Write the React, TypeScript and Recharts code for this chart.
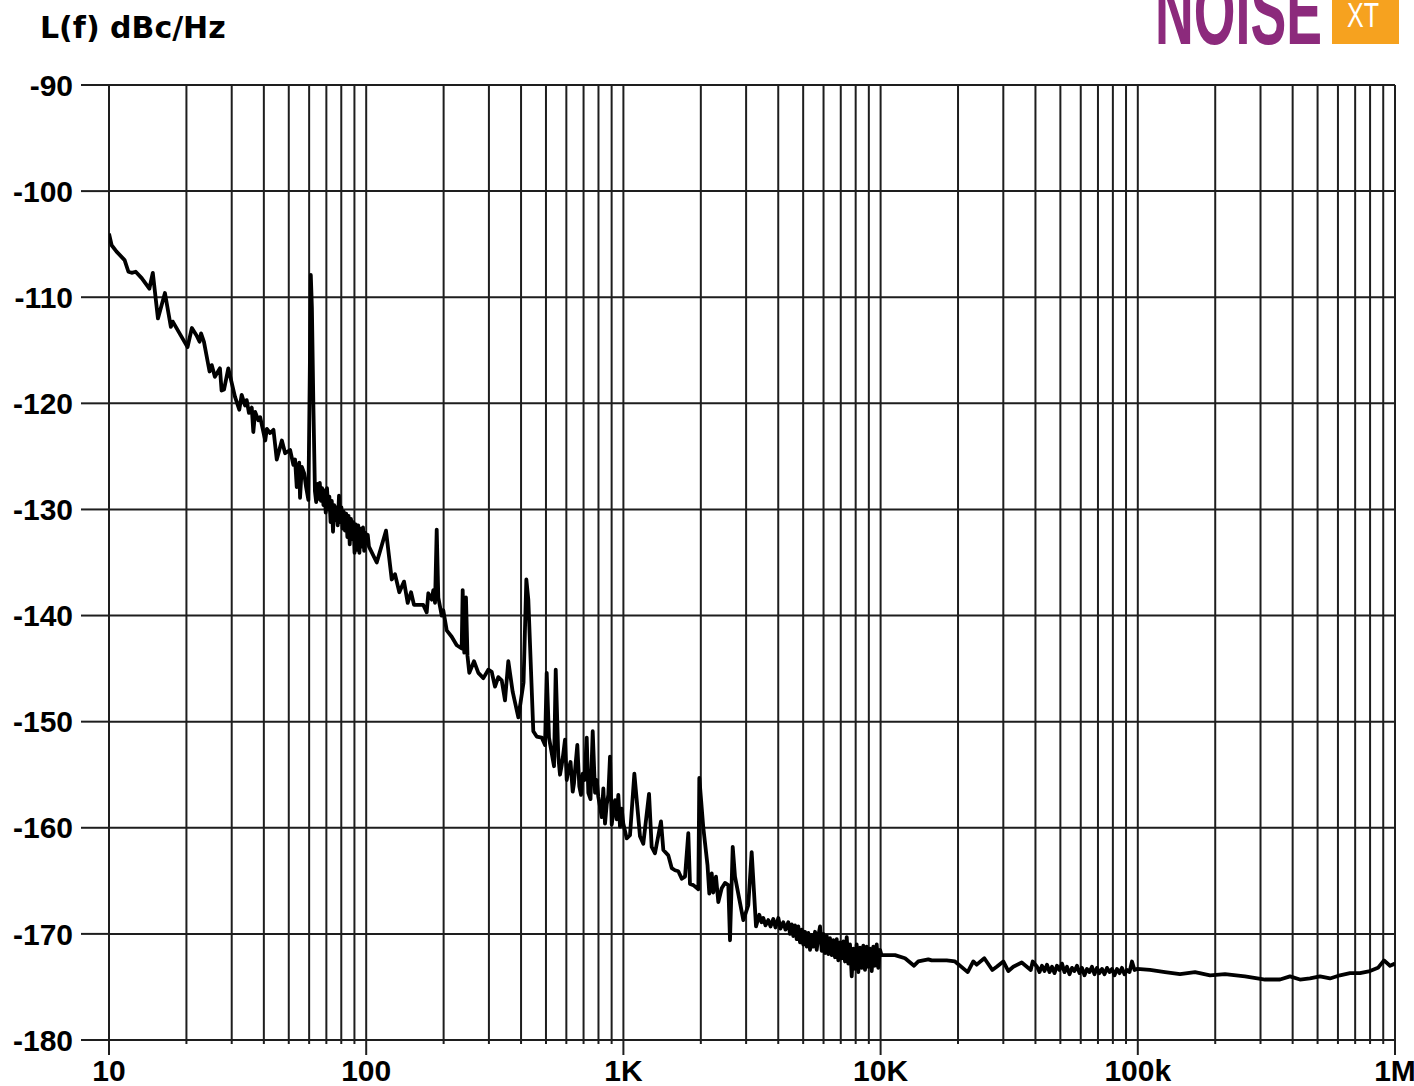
import React from 'react'
import { LineChart, Line, XAxis, YAxis, CartesianGrid } from 'recharts'

// [offset frequency Hz, L(f) dBc/Hz], one array per decade
const DECADE_10: [number, number][] = [
  [10.0, -104.0], [10.24, -105.1], [10.7, -105.7], [11.5, -106.5], [11.9, -107.6], [12.25, -107.7],
  [12.7, -107.6], [13.4, -108.2], [14.35, -109.2], [14.8, -107.7], [15.5, -112.0], [16.5, -109.6],
  [17.4, -112.8], [17.7, -112.3], [20.2, -114.7], [21.0, -112.9], [21.9, -113.6], [22.5, -114.2],
  [22.8, -113.4], [23.4, -114.2], [24.6, -117.0], [25.1, -116.4], [25.8, -117.5], [27.0, -116.7],
  [27.4, -118.8], [28.0, -118.7], [29.1, -116.7], [30.9, -119.4], [32.1, -120.6], [32.8, -119.2],
  [33.8, -120.2], [34.3, -119.7], [35.0, -120.9], [35.9, -120.4], [36.4, -122.7], [37.0, -120.8],
  [38.1, -121.6], [38.7, -121.3], [40.5, -123.5], [41.1, -122.4], [42.3, -122.8], [43.6, -122.5],
  [44.9, -125.3], [47.0, -123.5], [48.4, -124.7], [50.6, -124.4], [52.1, -125.8], [52.9, -125.3],
  [53.7, -127.9], [54.9, -125.6], [55.3, -128.9], [56.2, -126.0], [57.4, -126.6], [58.4, -127.9],
  [59.6, -129.1], [60.3, -118.0], [60.9, -107.9], [61.5, -111.0], [62.3, -120.0], [63.2, -128.3],
  [63.9, -129.3], [64.6, -127.6], [65.3, -129.0], [66.0, -127.5], [66.7, -129.2], [67.4, -128.0],
  [68.2, -129.6], [68.9, -128.2], [69.6, -130.3], [70.4, -128.0], [71.2, -130.0], [71.9, -128.8],
  [72.7, -131.2], [73.5, -129.2], [74.3, -132.1], [75.1, -129.6], [75.9, -131.0], [76.7, -129.8],
  [77.5, -131.5], [78.4, -128.7], [79.2, -131.2], [80.1, -129.8], [81.0, -131.8], [81.8, -130.2],
  [82.7, -132.0], [83.6, -130.4], [84.5, -132.6], [85.4, -130.6], [86.3, -133.3], [87.3, -130.9],
  [88.2, -132.8], [89.2, -131.2], [90.1, -134.1], [91.1, -131.4], [92.1, -133.8], [93.1, -131.5],
  [94.1, -134.1], [95.1, -131.8], [96.1, -133.5], [97.2, -131.7], [98.2, -133.9], [99.3, -132.2],
]

const DECADE_100: [number, number][] = [
  [100.4, -133.2], [101.4, -132.4], [102.5, -133.5], [109.9, -135.0], [119.4, -132.0], [125.7, -136.6],
  [129.4, -136.1], [134.5, -137.8], [140.3, -136.8], [145.0, -138.8], [149.4, -137.8], [153.4, -139.0],
  [166.7, -139.0], [171.9, -139.7], [174.4, -137.9], [179.8, -138.5], [182.4, -137.6], [185.2, -138.8],
  [188.0, -131.9], [190.7, -138.3], [196.6, -140.0], [199.4, -139.5], [205.6, -141.4], [215.0, -142.0],
  [224.9, -142.8], [235.1, -143.1], [237.2, -137.6], [240.6, -143.5], [244.3, -138.3], [247.6, -143.8],
  [251.7, -145.4], [262.5, -144.3], [272.9, -145.4], [285.4, -145.9], [298.4, -145.1], [307.6, -145.3],
  [316.8, -146.7], [326.3, -145.8], [336.4, -146.1], [346.5, -148.0], [356.9, -144.3], [371.2, -147.2],
  [390.4, -149.6], [409.0, -146.3], [419.4, -136.6], [426.9, -138.5], [446.4, -150.9], [460.2, -151.4],
  [481.2, -151.5], [495.7, -152.2], [503.3, -145.4], [513.7, -151.5], [537.3, -154.2], [545.6, -145.1],
  [558.4, -153.3], [566.9, -155.0], [575.6, -154.1], [584.0, -153.0], [592.9, -151.7], [602.1, -155.5],
  [610.6, -154.6], [623.0, -153.8], [635.3, -156.6], [642.6, -155.8], [648.5, -154.6], [662.0, -152.2],
  [673.9, -156.1], [684.2, -156.9], [694.8, -154.9], [706.0, -155.5], [720.1, -151.5], [730.5, -156.7],
  [744.9, -157.3], [759.8, -150.9], [775.7, -156.7], [787.6, -155.5], [798.9, -157.1], [811.1, -158.0],
  [823.5, -159.0], [835.5, -156.3], [848.3, -159.6], [861.2, -157.8], [873.7, -156.9], [887.1, -153.3],
  [900.7, -159.7], [913.6, -158.5], [927.6, -157.4], [941.8, -159.2], [955.5, -156.9], [970.0, -159.9],
  [984.9, -158.2],
]

const DECADE_1K: [number, number][] = [
  [999, -159.6], [1030, -161.0], [1061, -160.7], [1103, -154.9], [1160, -160.8], [1195, -161.5],
  [1258, -156.8], [1288, -161.8], [1327, -162.4], [1400, -159.4], [1430, -162.1], [1495, -162.6],
  [1541, -163.8], [1587, -164.0], [1635, -164.1], [1686, -164.8], [1736, -164.6], [1788, -160.5],
  [1815, -165.3], [1870, -165.4], [1956, -165.8], [1973, -155.3], [2045, -160.0], [2123, -163.5],
  [2158, -166.2], [2205, -164.3], [2236, -166.1], [2291, -164.6], [2339, -167.0], [2411, -165.7],
  [2483, -165.2], [2558, -165.4], [2597, -170.6], [2661, -161.8], [2716, -164.6], [2926, -168.7],
  [3059, -167.3], [3153, -162.3], [3278, -169.3], [3376, -168.2], [3443, -168.9], [3499, -168.5],
  [3569, -169.2], [3659, -168.7], [3732, -169.3], [3827, -168.6], [3903, -169.4], [4002, -168.5],
  [4082, -169.5], [4185, -168.9], [4268, -169.6], [4377, -168.9], [4444, -170.0], [4512, -169.1],
  [4577, -170.2], [4648, -169.2], [4719, -170.5], [4787, -169.3], [4860, -170.8], [4935, -169.6],
  [5006, -171.0], [5083, -169.8], [5161, -171.2], [5236, -169.9], [5316, -171.5], [5398, -170.1],
  [5476, -171.2], [5560, -169.8], [5645, -171.5], [5726, -170.2], [5814, -169.3], [5904, -171.6],
  [5989, -170.0], [6081, -171.8], [6174, -170.2], [6263, -171.9], [6357, -170.4], [6455, -172.0],
  [6548, -170.6], [6649, -172.2], [6751, -170.5], [6848, -172.5], [6953, -170.8], [7060, -172.3],
  [7162, -170.7], [7272, -172.6], [7384, -170.3], [7490, -172.8], [7605, -171.0], [7722, -174.0],
  [7833, -171.4], [7952, -173.3], [8074, -171.0], [8191, -173.6], [8316, -171.3], [8444, -173.2],
  [8566, -171.1], [8697, -173.4], [8830, -171.2], [8958, -173.1], [9095, -171.4], [9235, -173.5],
  [9368, -171.2], [9511, -173.0], [9658, -171.0], [9796, -173.2], [9946, -171.5],
]

const DECADE_10K: [number, number][] = [
  [10081, -172.0], [11376, -172.0], [12443, -172.3], [13490, -173.0], [14020, -172.6], [14660, -172.5],
  [15330, -172.4], [15800, -172.5], [18070, -172.5], [19460, -172.6], [21810, -173.6], [22930, -172.6],
  [23640, -172.9], [25310, -172.3], [27190, -173.4], [28280, -173.1], [30000, -172.6], [31380, -173.5],
  [32810, -173.1], [35380, -172.7], [38340, -173.4], [39040, -172.6], [40561, -173.1], [41479, -173.6],
  [42416, -173.0], [43375, -173.5], [44356, -172.9], [45359, -173.6], [46385, -173.1], [47434, -173.7],
  [48507, -173.0], [49604, -173.4], [50726, -172.8], [51873, -173.6], [53046, -173.1], [54246, -173.8],
  [55473, -173.2], [56728, -173.5], [58011, -173.0], [59323, -173.7], [60665, -173.2], [62037, -173.9],
  [63440, -173.3], [64875, -173.6], [66342, -173.1], [67843, -173.8], [69377, -173.2], [70947, -173.7],
  [72551, -173.3], [74193, -173.8], [75901, -173.2], [77620, -173.6], [79376, -173.3], [81173, -173.9],
  [83009, -173.3], [84886, -173.7], [86806, -173.2], [88770, -173.8], [90778, -173.4], [92832, -173.6],
  [94943, -172.6], [97097, -173.4], [99286, -173.3],
]

const DECADE_100K: [number, number][] = [
  [111500, -173.4], [127600, -173.6], [145900, -173.8], [166900, -173.6], [190900, -173.9],
  [218300, -173.8], [261100, -174.0], [312300, -174.3], [357200, -174.3], [390700, -174.0],
  [427100, -174.3], [467200, -174.2], [511000, -174.0], [558900, -174.2], [611300, -173.9],
  [668300, -173.7], [730900, -173.7], [799400, -173.5], [858700, -173.2], [906300, -172.5],
  [956300, -173.0], [1000000, -172.8],
]

const DECADES = [10, 100, 1000, 10000, 100000, 1000000]
const DECADE_LABELS = ['10', '100', '1K', '10K', '100k', '1M']
const MULTIPLIERS = [1, 2, 3, 4, 5, 6, 7, 8, 9]
const LEVEL_TICKS = [-180, -170, -160, -150, -140, -130, -120, -110, -100, -90]

const data = [...DECADE_10, ...DECADE_100, ...DECADE_1K, ...DECADE_10K, ...DECADE_100K].map(
  ([f, level]) => ({ f, level })
)

const freqTicks: number[] = []
DECADES.slice(0, -1).forEach((d) => MULTIPLIERS.forEach((m) => freqTicks.push(d * m)))
freqTicks.push(DECADES[DECADES.length - 1])

const GRID = '#1e1e1e'
const FONT = '"Liberation Sans", Arial, sans-serif'

const FreqTick = (props: any) => {
  const { x, y, payload } = props
  const idx = DECADES.indexOf(payload.value)
  const major = idx >= 0
  return (
    <g>
      <line x1={x} x2={x} y1={y} y2={y + (major ? 15 : 4)} stroke={GRID} strokeWidth={2} />
      {major && (
        <text
          x={x}
          y={y + 41}
          textAnchor="middle"
          fontFamily={FONT}
          fontWeight="bold"
          fontSize={30}
          fill="#000"
        >
          {DECADE_LABELS[idx]}
        </text>
      )}
    </g>
  )
}

function Logo() {
  return (
    <svg
      width={1414}
      height={60}
      style={{ position: 'absolute', left: 0, top: 0, pointerEvents: 'none' }}
    >
      <text
        x={1155}
        y={44}
        textLength={167}
        lengthAdjust="spacingAndGlyphs"
        fontFamily={FONT}
        fontWeight="bold"
        fontSize={95}
        fill="#8c2a7c"
      >
        NOISE
      </text>
      <rect x={1332} y={0} width={67} height={44} fill="#f6a21f" />
      <text
        x={1347}
        y={27}
        textLength={32}
        lengthAdjust="spacingAndGlyphs"
        fontFamily={FONT}
        fontSize={35}
        fill="#fff"
      >
        XT
      </text>
    </svg>
  )
}

export default function App() {
  return (
    <div style={{ position: 'absolute', left: 0, top: 0, width: 1414, height: 1086, background: '#fff' }}>
      <div
        style={{
          position: 'absolute',
          left: 40,
          top: 10,
          fontFamily: '"DejaVu Sans", sans-serif',
          fontWeight: 'bold',
          fontSize: 30,
          lineHeight: '36px',
          color: '#000',
        }}
      >
        L(f) dBc/Hz
      </div>
      <Logo />
      <LineChart
        width={1414}
        height={1086}
        data={data}
        margin={{ top: 85, right: 19, bottom: 0, left: 0 }}
      >
        <CartesianGrid stroke={GRID} strokeWidth={2} />
        <XAxis
          dataKey="f"
          type="number"
          scale="log"
          domain={[10, 1000000]}
          ticks={freqTicks}
          interval={0}
          height={46}
          axisLine={false}
          tickLine={false}
          tickSize={0}
          tickMargin={0}
          tick={<FreqTick />}
          allowDataOverflow
        />
        <YAxis
          type="number"
          domain={[-180, -90]}
          ticks={LEVEL_TICKS}
          interval={0}
          width={109}
          axisLine={false}
          tickSize={28}
          tickMargin={8}
          tickLine={{ stroke: GRID, strokeWidth: 2 }}
          tick={{ fill: '#000', fontSize: 30, fontWeight: 'bold', fontFamily: FONT }}
          allowDataOverflow
        />
        <Line
          type="linear"
          dataKey="level"
          stroke="#000"
          strokeWidth={3.8}
          strokeLinejoin="round"
          dot={false}
          isAnimationActive={false}
        />
      </LineChart>
    </div>
  )
}
